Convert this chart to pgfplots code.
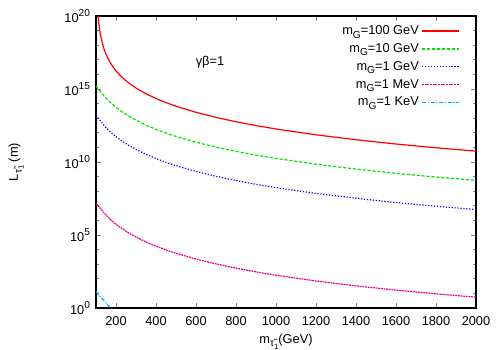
\documentclass[border=0pt]{standalone}
\usepackage{fontspec}
\setmainfont{Liberation Sans}
\usepackage{pgfplots}
\pgfplotsset{compat=1.18}
\newcommand{\su}[1]{\raisebox{0.42em}{\fontsize{7.6}{8}\selectfont #1}}
\newcommand{\sub}[1]{\raisebox{-0.28em}{\fontsize{7.6}{8}\selectfont #1}}
\newcommand{\subb}[1]{\raisebox{-0.22em}{\fontsize{5.8}{6}\selectfont #1}}
\newcommand{\fs}{\fontsize{9.6}{11}\selectfont}
\begin{document}
\begin{tikzpicture}
\path[use as bounding box] (-72pt,-31.5pt) rectangle (303pt,231pt);
\begin{axis}[
  at={(0,0)}, anchor=south west, scale only axis,
  width=285pt, height=219pt,
  xmin=100, xmax=2000, ymin=0, ymax=20,
  xtick={200,400,...,2000},
  ytick={0,5,10,15,20},
  yticklabels={10\su{0},10\su{5},10\su{10},10\su{15},10\su{20}},
  minor ytick={1,2,3,4,6,7,8,9,11,12,13,14,16,17,18,19},
  tick align=inside,
  major tick length=3.75pt,
  minor tick length=2pt,
  axis line style={line width=0.8pt},
  tick style={line width=0.6pt},
  /pgf/number format/1000 sep={},
  /pgf/number format/assume math mode=true,
  tick label style={font=\fs},
  xticklabel style={yshift=-3pt},
  yticklabel style={xshift=-1pt},
  xlabel={m\sub{\~{τ}\subb{1}}(GeV)},
  ylabel={L\sub{\~{τ}\subb{1}} (m)},
  label style={font=\fs},
  xlabel style={at={(axis description cs:0.5,-0.115)}, anchor=center},
  ylabel style={at={(axis description cs:-0.21,0.5)}, anchor=center},
  legend plot pos=right,
  legend cell align=right,
  legend style={font=\fs, draw=none, fill=none, at={(axis description cs:1,1)}, anchor=north east, xshift=-9pt, yshift=-3pt, row sep=1.2pt},
  legend image code/.code={\draw[#1] (0pt,0pt) -- (27.75pt,0pt);},
]
\addplot[draw=red, solid, line width=0.9pt] coordinates {(104,21.65) (106,20.95) (108,20.461) (110,20.080) (112,19.771) (115,19.393) (120,18.909) (125,18.536) (130,18.231) (140,17.755) (150,17.386) (160,17.085) (175,16.717) (200,16.240) (225,15.866) (250,15.558) (300,15.065) (350,14.673) (400,14.347) (450,14.067) (500,13.821) (600,13.403) (700,13.056) (800,12.757) (900,12.496) (1000,12.262) (1200,11.861) (1400,11.524) (1600,11.232) (1800,10.974) (2000,10.744)};
\addlegendentry{m\sub{G}=100 GeV}
\addplot[draw=green!90!black, line width=0.9pt, dash pattern=on 2.4pt off 1.3pt] coordinates {(100,15.20) (102,15.17) (104,15.14) (106,15.11) (108,15.075) (110,15.04) (112,15.005) (115,14.950) (120,14.861) (125,14.772) (130,14.685) (140,14.524) (150,14.373) (160,14.232) (175,14.036) (200,13.744) (225,13.487) (250,13.258) (300,12.862) (350,12.526) (400,12.236) (450,11.979) (500,11.751) (600,11.354) (700,11.020) (800,10.730) (900,10.474) (1000,10.245) (1200,9.849) (1400,9.515) (1600,9.225) (1800,8.969) (2000,8.740)};
\addlegendentry{m\sub{G}=10 GeV}
\addplot[draw=blue, line width=0.9pt, dash pattern=on 0.9pt off 1.3pt] coordinates {(100,13.19) (102,13.155) (104,13.12) (106,13.09) (108,13.06) (110,13.025) (112,12.99) (115,12.937) (120,12.849) (125,12.761) (130,12.675) (140,12.515) (150,12.365) (160,12.225) (175,12.030) (200,11.740) (225,11.484) (250,11.255) (300,10.860) (350,10.525) (400,10.235) (450,9.979) (500,9.750) (600,9.354) (700,9.020) (800,8.730) (900,8.474) (1000,8.245) (1200,7.849) (1400,7.515) (1600,7.225) (1800,6.969) (2000,6.740)};
\addlegendentry{m\sub{G}=1 GeV}
\addplot[draw=magenta, line width=0.9pt, dash pattern=on 1.4pt off 0.6pt] coordinates {(100,7.15) (102,7.125) (104,7.10) (106,7.07) (108,7.04) (110,7.01) (112,6.98) (115,6.932) (120,6.849) (125,6.761) (130,6.675) (140,6.515) (150,6.365) (160,6.225) (175,6.030) (200,5.740) (225,5.484) (250,5.255) (300,4.860) (350,4.525) (400,4.235) (450,3.979) (500,3.750) (600,3.354) (700,3.020) (800,2.730) (900,2.474) (1000,2.245) (1200,1.849) (1400,1.515) (1600,1.225) (1800,0.969) (2000,0.740)};
\addlegendentry{m\sub{G}=1 MeV}
\addplot[draw=cyan, line width=0.9pt, dash pattern=on 3pt off 1.3pt on 0.8pt off 1.3pt] coordinates {(100,1.12) (102,1.09) (104,1.06) (106,1.03) (108,1.00) (110,0.97) (112,0.94) (115,0.89) (120,0.81) (125,0.73) (130,0.65) (140,0.50) (150,0.34) (160,0.19) (175,-0.03) (200,-0.35)};
\addlegendentry{m\sub{G}=1 KeV}
\node[font=\fs] at (axis cs:670,16.85) {γβ=1};
\end{axis}
\end{tikzpicture}
\end{document}
